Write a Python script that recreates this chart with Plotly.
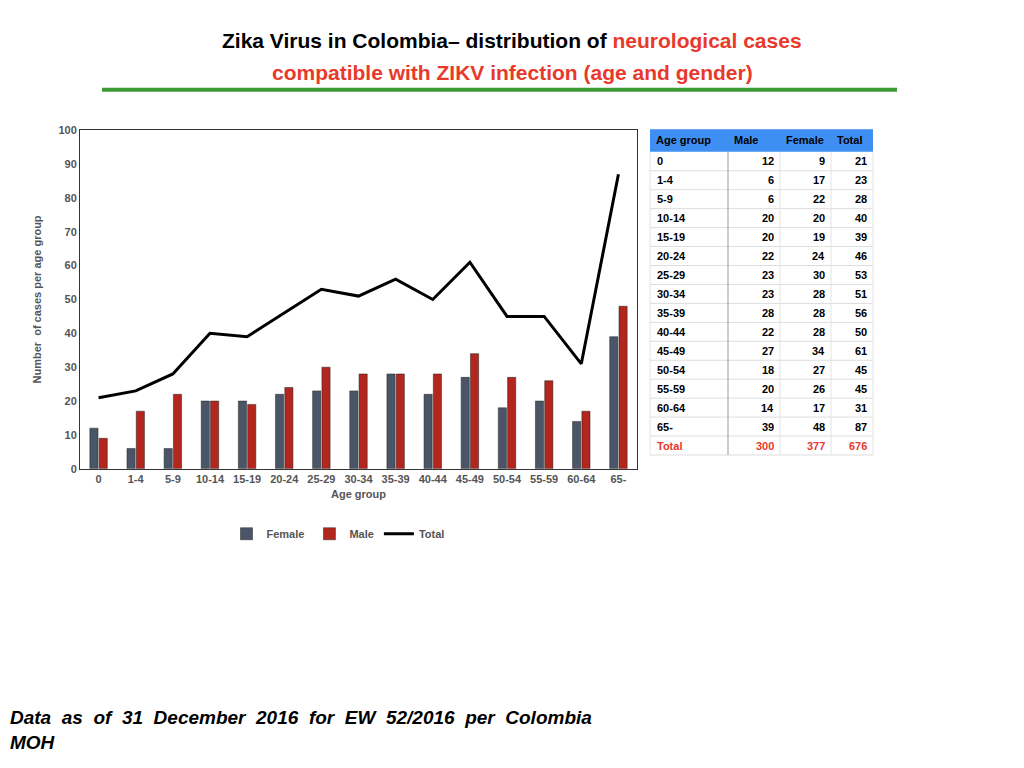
import plotly.graph_objects as go

W, H = 1024, 768

age_groups = ["0", "1-4", "5-9", "10-14", "15-19", "20-24", "25-29", "30-34",
              "35-39", "40-44", "45-49", "50-54", "55-59", "60-64", "65-"]
male = [12, 6, 6, 20, 20, 22, 23, 23, 28, 22, 27, 18, 20, 14, 39]
female = [9, 17, 22, 20, 19, 24, 30, 28, 28, 28, 34, 27, 26, 17, 48]
total = [21, 23, 28, 40, 39, 46, 53, 51, 56, 50, 61, 45, 45, 31, 87]
table_header = ["Age group", "Male", "Female", "Total"]

# chart legend labels are swapped relative to the table columns (as in source)
bar_dark = male
bar_red = female

_FONT = "Liberation Sans, Arial, sans-serif"
_DARK = "#4A5668"
_RED = "#B2261D"
_TRED = "#E8392B"

DX, DY = -8, -10  # page offset compensation


def px(x):
    return (x + DX) / W


def py(y):
    return 1 - (y + DY) / H


fig = go.Figure()
fig.add_trace(go.Bar(x=age_groups, y=bar_dark, name="Female", marker_color=_DARK,
                     marker_line_color="#222", marker_line_width=0.5))
fig.add_trace(go.Bar(x=age_groups, y=bar_red, name="Male", marker_color=_RED,
                     marker_line_color="#222", marker_line_width=0.5))
fig.add_trace(go.Scatter(x=age_groups, y=total, name="Total", mode="lines",
                         line=dict(color="black", width=3)))

fig.update_layout(
    width=W, height=H,
    paper_bgcolor="white", plot_bgcolor="white",
    margin=dict(l=0, r=0, t=0, b=0),
    font=dict(family=_FONT, size=11, color="#555555"),
    barmode="group", bargap=0.5, bargroupgap=0.12,
    xaxis=dict(domain=[px(80), px(637)], showline=True, mirror=True, linecolor="#333",
               ticks="", tickfont=dict(size=11, color="#555", weight="bold"),
               title=dict(text="<b>Age group</b>", font=dict(size=11, color="#555"), standoff=6)),
    yaxis=dict(domain=[py(472), py(128)], range=[0, 100], dtick=10, showgrid=False,
               showline=True, mirror=True, linecolor="#333", ticks="",
               tickfont=dict(size=11, color="#555", weight="bold"),
               title=dict(text="<b>Number  of cases per age group</b>",
                          font=dict(size=11, color="#555"), standoff=14)),
    legend=dict(orientation="h", x=px(338), xanchor="center", y=py(538), yanchor="middle",
                font=dict(size=11, color="#555", weight="bold"), traceorder="normal",
                itemwidth=30, tracegroupgap=0),
    showlegend=True,
)

# table drawn with shapes and annotations
col_edges = [650, 728, 780, 831, 873]
header_top, header_bot = 127, 150
row_h = (458 - header_bot) / (len(age_groups) + 1)
fig.add_shape(type="rect", xref="paper", yref="paper", x0=px(col_edges[0]), x1=px(col_edges[-1]),
              y0=py(header_bot), y1=py(header_top), fillcolor="#3F8FF2", line_width=0, layer="below")
for i, h in enumerate(table_header):
    fig.add_annotation(x=px(col_edges[i] + 4), y=py((header_top + header_bot) / 2),
                       xref="paper", yref="paper", xanchor="left", yanchor="middle",
                       showarrow=False, text=f"<b>{h}</b>",
                       font=dict(family=_FONT, size=11, color="black"))
rows = [[a, m, f, t] for a, m, f, t in zip(age_groups, male, female, total)]
rows.append(["Total", sum(male), sum(female), sum(total)])
for r, row in enumerate(rows):
    top = header_bot + r * row_h
    bot = top + row_h
    color = _TRED if r == len(rows) - 1 else "black"
    fig.add_shape(type="line", xref="paper", yref="paper", x0=px(col_edges[0]), x1=px(col_edges[-1]),
                  y0=py(bot), y1=py(bot), line=dict(color="#DDDDDD", width=1))
    for c, val in enumerate(row):
        if c == 0:
            x, anchor = col_edges[0] + 5, "left"
        else:
            x, anchor = col_edges[c + 1] - 4, "right"
        fig.add_annotation(x=px(x), y=py((top + bot) / 2), xref="paper", yref="paper",
                           xanchor=anchor, yanchor="middle", showarrow=False,
                           text=f"<b>{val}</b>",
                           font=dict(family=_FONT, size=11, color=color))
for i, e in enumerate(col_edges):
    fig.add_shape(type="line", xref="paper", yref="paper", x0=px(e), x1=px(e),
                  y0=py(458), y1=py(header_bot),
                  line=dict(color="#999" if i == 1 else "#E4E4E4", width=1))

fig.add_annotation(x=px(512), y=py(37), xref="paper", yref="paper", showarrow=False,
                   yanchor="middle",
                   text="<b>Zika Virus in Colombia– distribution of <span style='color:#E8392B'>neurological cases</span></b>",
                   font=dict(family=_FONT, size=21, color="black"))
fig.add_annotation(x=px(512), y=py(69), xref="paper", yref="paper", showarrow=False,
                   yanchor="middle",
                   text="<b>compatible with ZIKV infection (age and gender)</b>",
                   font=dict(family=_FONT, size=21, color=_TRED))
fig.add_shape(type="line", xref="paper", yref="paper", x0=px(102), x1=px(897),
              y0=py(87), y1=py(87), line=dict(color="#3C9A32", width=4))
fig.add_annotation(x=px(8), y=py(737), xref="paper", yref="paper", showarrow=False,
                   xanchor="left", yanchor="middle", align="left",
                   text="<b><i>Data  as  of  31  December  2016  for  EW  52/2016  per  Colombia<br>MOH</i></b>",
                   font=dict(family=_FONT, size=19, color="black"))

fig.write_html("out.html")
